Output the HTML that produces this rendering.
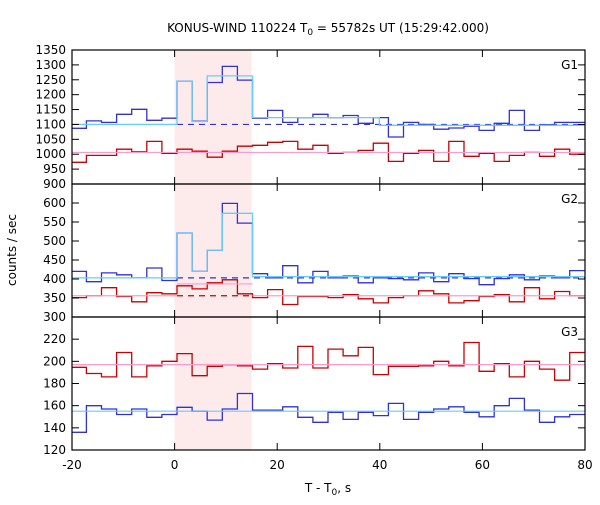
<!DOCTYPE html>
<html><head><meta charset="utf-8"><style>
body{margin:0;background:#fff}
svg text{font-family:"DejaVu Sans","Liberation Sans",sans-serif;font-size:12px;fill:#000}
</style></head><body>
<svg id="c" width="600" height="500"></svg>
<script>
const binStart=-20.14, binW=2.944;
const g1Blue=[1087,1112,1107,1134,1151,1114,1121,1245,1111,1241,1295,1249,1121,1147,1107,1123,1134,1123,1130,1104,1123,1058,1107,1100,1084,1088,1094,1080,1104,1147,1080,1099,1107,1107];
const g1Red=[973,996,996,1017,1008,1043,1003,1017,1010,990,1010,1027,1030,1040,1043,1017,1030,1003,1006,1013,1037,976,1003,1013,976,1043,993,1003,976,996,1006,993,1017,1000];
const g2Blue=[420,393,416,411,403,429,396,521,420,476,599,547,414,403,435,390,420,403,408,390,403,401,398,416,393,414,401,385,401,411,398,408,403,422];
const g2Red=[351,356,377,354,340,364,361,382,374,390,398,361,351,372,333,354,354,351,359,348,337,351,356,369,361,337,343,354,359,340,377,348,367,356];
const g3Red=[194.6,189,186,208,186,196,200,207,187,195.5,197,196,193,198,194,213.5,194,211,205,212.6,188,195.5,195.5,196,200,196,217,191,198,186,200,193,183,208];
const g3Blue=[136,160,157,152,157,149.5,152,158.5,155,147,157,171,156,156,159,149.5,145,154,147.6,154,151,162,147.6,154,157,159,154,150,160,166.6,156,145,150,152];
const g1Model=[[-20,0.47,1100],[0.47,3.41,1245],[3.41,6.36,1110],[6.36,15.19,1263],[15.19,39.9,1123],[39.9,80,1097]];
const g1Bg=1100, g1Pink=1006;
const g2Model=[[-20,0.47,403],[0.47,3.41,521],[3.41,6.36,420],[6.36,9.3,476],[9.3,15.19,573],[15.19,80,406]];
const g2Bg=403, g2Pink=356, g2PinkBurst=387;
const g3Cyan=155, g3Pink=197;
const xTicks=[-20,0,20,40,60,80];
const g1Ticks=[900,950,1000,1050,1100,1150,1200,1250,1300,1350];
const g2Ticks=[300,350,400,450,500,550,600];
const g3Ticks=[120,140,160,180,200,220];

const svg=document.getElementById('c');const NS='http://www.w3.org/2000/svg';
function mk(tag,at,txt){const e=document.createElementNS(NS,tag);for(const k in at)e.setAttribute(k,at[k]);if(txt!==undefined)e.textContent=txt;svg.appendChild(e);return e;}
const X0=72,X1=585;
const x=t=>X0+(t+20)*(X1-X0)/100;
function yS(top,bot,lo,hi){return v=>bot-(v-lo)/(hi-lo)*(bot-top);}
const panels=[{name:'g1',top:50,bot:184,lo:900,hi:1350,ticks:g1Ticks},{name:'g2',top:184,bot:317,lo:300,hi:650,ticks:g2Ticks},{name:'g3',top:317,bot:450,lo:120,hi:240,ticks:g3Ticks}];
panels.forEach(p=>p.y=yS(p.top,p.bot,p.lo,p.hi));
let sh=mk('rect',{x:x(0),y:50,width:x(15)-x(0),height:400,fill:'#fdeaea'});


function stepPath(vals,y){let d='';vals.forEach((v,k)=>{let a=Math.max(-20,binStart+k*binW),b=Math.min(80,binStart+(k+1)*binW);d+=(k?'L':'M')+x(a).toFixed(1)+','+y(v).toFixed(1)+'L'+x(b).toFixed(1)+','+y(v).toFixed(1);});return d;}
function segPath(segs,y){let d='';segs.forEach((s,k)=>{d+=(k?'L':'M')+x(s[0]).toFixed(1)+','+y(s[2]).toFixed(1)+'L'+x(s[1]).toFixed(1)+','+y(s[2]).toFixed(1);});return d;}
function line(t0,t1,v,y,col,name,dash){let e=mk('line',{x1:x(t0),x2:x(t1),y1:y(v),y2:y(v),stroke:col,'stroke-width':1.2});if(dash)e.setAttribute('stroke-dasharray','6,5');

}
function path(d,col,name){let e=mk('path',{d:d,fill:'none',stroke:col,'stroke-width':1.3});

}
const BL='#3030dd',CY='#66ccff',RD='#cc0000',PK='#ff99cc';
let P=panels;
path(stepPath(g1Blue,P[0].y),BL,'g1-blue-counts');
path(stepPath(g1Red,P[0].y),RD,'g1-red-counts');
line(-20,80,g1Pink,P[0].y,PK,'g1-pink-background');
line(0.47,80,g1Bg,P[0].y,BL,'g1-blue-background-dashed',true);
path(segPath(g1Model,P[0].y),CY,'g1-cyan-model');
path(stepPath(g2Blue,P[1].y),BL,'g2-blue-counts');
path(stepPath(g2Red,P[1].y),RD,'g2-red-counts');
line(0.47,80,g2Bg,P[1].y,BL,'g2-blue-background-dashed',true);
line(0.47,15.19,g2Pink,P[1].y,RD,'g2-red-background-dashed',true);
line(-20,0.47,g2Pink,P[1].y,PK,'g2-pink-pre');
line(0.47,15.19,g2PinkBurst,P[1].y,PK,'g2-pink-burst');
line(15.19,80,g2Pink,P[1].y,PK,'g2-pink-post');
path(segPath(g2Model,P[1].y),CY,'g2-cyan-model');
path(stepPath(g3Red,P[2].y),RD,'g3-red-counts');
path(stepPath(g3Blue,P[2].y),BL,'g3-blue-counts');
line(-20,80,g3Pink,P[2].y,PK,'g3-pink-background');
line(-20,80,g3Cyan,P[2].y,CY,'g3-cyan-background');
panels.forEach((p,i)=>{
 let r=mk('rect',{x:X0,y:p.top,width:X1-X0,height:p.bot-p.top,fill:'none',stroke:'#000','stroke-width':1.2});
 
 
 p.ticks.forEach(v=>{const yy=p.y(v);
  mk('line',{x1:X0,x2:X0+7,y1:yy,y2:yy,stroke:'#000'});mk('line',{x1:X1-7,x2:X1,y1:yy,y2:yy,stroke:'#000'});
  let t=mk('text',{x:X0-6,y:yy+4,'text-anchor':'end'},v);
  
  });
 xTicks.forEach(v=>{mk('line',{x1:x(v),x2:x(v),y1:p.top,y2:p.top+7,stroke:'#000'});mk('line',{x1:x(v),x2:x(v),y1:p.bot-7,y2:p.bot,stroke:'#000'});});
 let g=mk('text',{x:578,y:p.top+19,'text-anchor':'end'},'G'+(i+1));
 
 
});
xTicks.forEach(v=>{let t=mk('text',{x:x(v),y:469,'text-anchor':'middle'},v);
 
 });
let ti=mk('text',{x:328,y:32,'text-anchor':'middle'});
ti.innerHTML='KONUS-WIND 110224 T<tspan dy="3" font-size="9">0</tspan><tspan dy="-3"> = 55782s UT (15:29:42.000)</tspan>';


let xl=mk('text',{x:328,y:492,'text-anchor':'middle'});
xl.innerHTML='T - T<tspan dy="3" font-size="9">0</tspan><tspan dy="-3">, s</tspan>';


let yl=mk('text',{x:16,y:250,'text-anchor':'middle',transform:'rotate(-90 16 250)'},'counts / sec');


</script>
</body></html>
